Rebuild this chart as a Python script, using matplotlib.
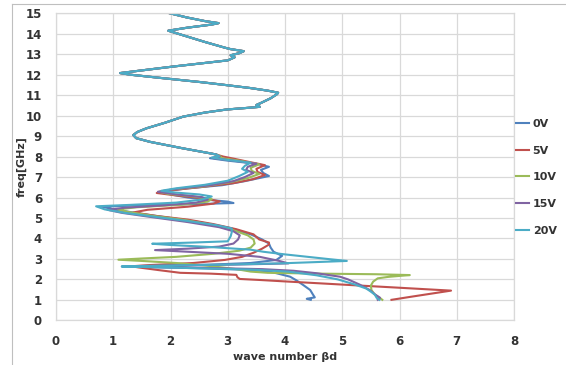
import matplotlib
matplotlib.use("Agg")
import matplotlib.pyplot as plt
from matplotlib.lines import Line2D

series_labels = ["0V", "5V", "10V", "15V", "20V"]
series_colors = ["#4F81BD", "#C0504D", "#9BBB59", "#8064A2", "#4BACC6"]

# (freq GHz, wave number) below 8 GHz, per bias voltage
low_0v = [(1.00, 4.45), (1.05, 4.38), (1.12, 4.52), (1.25, 4.49), (1.48, 4.44), (1.72, 4.32),
          (1.95, 4.20), (2.13, 4.09), (2.30, 3.85), (2.40, 3.70), (2.48, 3.20), (2.55, 2.40),
          (2.60, 1.60), (2.63, 1.15), (2.67, 1.70), (2.72, 2.70), (2.80, 3.40), (2.95, 3.85),
          (3.15, 3.95), (3.35, 3.80), (3.55, 3.75), (3.75, 3.72), (3.95, 3.60), (4.20, 3.40),
          (4.50, 3.05), (4.80, 2.50), (5.00, 2.00), (5.20, 1.50), (5.40, 1.05), (5.55, 0.80),
          (5.62, 1.50), (5.68, 2.50), (5.73, 3.10), (5.80, 3.00), (5.90, 2.60), (6.00, 2.30),
          (6.15, 2.00), (6.30, 1.90), (6.45, 2.30), (6.60, 2.90), (6.80, 3.30), (7.05, 3.72),
          (7.20, 3.62), (7.35, 3.58), (7.50, 3.72), (7.65, 3.50), (7.80, 3.00), (7.92, 2.69),
          (8.00, 2.85)]
low_5v = [(1.00, 5.86), (1.15, 6.20), (1.30, 6.55), (1.45, 6.90), (1.52, 6.45), (1.60, 5.94),
          (1.70, 5.29), (1.80, 4.65), (1.90, 4.00), (1.97, 3.56), (2.02, 3.21), (2.10, 3.17),
          (2.22, 3.15), (2.28, 2.70), (2.32, 2.17), (2.45, 1.80), (2.58, 1.45), (2.64, 1.32),
          (2.70, 1.65), (2.80, 2.40), (2.95, 2.95), (3.10, 3.25), (3.30, 3.45), (3.50, 3.60),
          (3.70, 3.72), (3.80, 3.72), (3.95, 3.55), (4.20, 3.45), (4.45, 3.15), (4.70, 2.75),
          (4.92, 2.30), (5.10, 1.75), (5.27, 1.35), (5.40, 1.60), (5.55, 2.30), (5.70, 2.75),
          (5.81, 2.86), (5.95, 2.60), (6.10, 2.10), (6.22, 1.76), (6.35, 2.00), (6.50, 2.50),
          (6.70, 3.10), (6.90, 3.45), (7.10, 3.65), (7.25, 3.52), (7.40, 3.50), (7.58, 3.65),
          (7.75, 3.35), (7.90, 3.10), (8.00, 2.92)]
low_10v = [(1.00, 5.70), (1.09, 5.66), (1.25, 5.57), (1.48, 5.51), (1.70, 5.50), (1.89, 5.54),
           (2.05, 5.62), (2.12, 5.80), (2.18, 6.05), (2.21, 6.18), (2.25, 5.60), (2.28, 4.60),
           (2.32, 3.70), (2.38, 3.40), (2.50, 3.15), (2.65, 2.70), (2.80, 2.10), (2.90, 1.50),
           (2.96, 1.09), (3.02, 1.50), (3.10, 2.10), (3.25, 2.75), (3.40, 3.20), (3.55, 3.40),
           (3.75, 3.47), (3.95, 3.45), (4.15, 3.35), (4.40, 3.10), (4.65, 2.75), (4.90, 2.25),
           (5.10, 1.70), (5.30, 1.25), (5.42, 1.08), (5.52, 1.40), (5.65, 2.20), (5.80, 2.65),
           (5.92, 2.72), (6.05, 2.40), (6.18, 1.95), (6.28, 1.80), (6.40, 2.05), (6.55, 2.60),
           (6.75, 3.05), (6.95, 3.35), (7.15, 3.55), (7.30, 3.42), (7.45, 3.40), (7.62, 3.55),
           (7.80, 3.20), (7.93, 2.88), (8.00, 2.88)]
low_15v = [(1.00, 5.62), (1.10, 5.66), (1.25, 5.58), (1.48, 5.48), (1.75, 5.30), (2.00, 5.10),
           (2.13, 4.96), (2.30, 4.55), (2.42, 4.15), (2.50, 3.60), (2.56, 2.60), (2.60, 1.80),
           (2.63, 1.20), (2.67, 1.90), (2.72, 3.10), (2.78, 4.06), (2.90, 3.90), (3.10, 3.56),
           (3.25, 3.00), (3.35, 2.30), (3.43, 1.73), (3.50, 2.30), (3.60, 2.85), (3.75, 3.10),
           (3.95, 3.18), (4.15, 3.21), (4.35, 3.10), (4.55, 2.85), (4.80, 2.30), (5.05, 1.65),
           (5.25, 1.15), (5.40, 0.90), (5.50, 1.20), (5.62, 1.90), (5.75, 2.45), (5.90, 2.65),
           (6.02, 2.55), (6.15, 2.10), (6.28, 1.78), (6.42, 2.10), (6.60, 2.70), (6.80, 3.10),
           (7.00, 3.30), (7.20, 3.45), (7.35, 3.32), (7.50, 3.35), (7.65, 3.50), (7.80, 3.10),
           (7.92, 2.75), (8.00, 2.86)]
low_20v = [(1.00, 5.65), (1.10, 5.60), (1.25, 5.57), (1.40, 5.50), (1.55, 5.42), (1.75, 5.22),
           (2.00, 4.92), (2.20, 4.55), (2.38, 4.05), (2.48, 3.40), (2.55, 2.40), (2.60, 1.60),
           (2.63, 1.15), (2.67, 1.80), (2.72, 2.90), (2.78, 3.90), (2.84, 4.50), (2.90, 5.08),
           (2.98, 4.80), (3.10, 4.40), (3.22, 4.00), (3.35, 3.62), (3.45, 3.40), (3.58, 2.70),
           (3.68, 2.00), (3.74, 1.68), (3.80, 2.40), (3.86, 3.00), (4.10, 3.05), (4.30, 3.07),
           (4.49, 3.07), (4.65, 2.80), (4.85, 2.30), (5.05, 1.75), (5.25, 1.20), (5.42, 0.85),
           (5.57, 0.70), (5.64, 1.30), (5.75, 2.10), (5.90, 2.55), (6.05, 2.72), (6.15, 2.50),
           (6.25, 2.05), (6.33, 1.84), (6.45, 2.10), (6.62, 2.60), (6.82, 3.00), (7.05, 3.20),
           (7.25, 3.35), (7.40, 3.25), (7.55, 3.30), (7.70, 3.40), (7.85, 2.95), (7.95, 2.72),
           (8.02, 2.85)]
# common upper branch above 8 GHz
high_common = [(8.10, 2.80), (8.16, 2.69), (8.40, 2.22), (8.72, 1.64), (8.90, 1.40), (9.05, 1.35),
               (9.20, 1.42), (9.38, 1.58), (9.65, 1.90), (9.95, 2.22), (10.15, 2.60), (10.30, 2.98),
               (10.38, 3.35), (10.43, 3.56), (10.52, 3.50), (10.62, 3.58), (10.85, 3.75), (11.05, 3.86),
               (11.12, 3.88), (11.22, 3.70), (11.35, 3.39), (11.50, 2.95), (11.64, 2.52), (11.85, 1.80),
               (12.00, 1.30), (12.08, 1.12), (12.40, 2.05), (12.70, 3.00), (12.85, 3.12), (12.95, 3.05),
               (13.05, 3.20), (13.15, 3.28), (13.25, 3.05), (13.32, 2.95), (13.60, 2.60), (13.90, 2.25),
               (14.15, 1.96), (14.30, 2.30), (14.45, 2.72), (14.52, 2.84), (14.62, 2.60), (14.80, 2.28),
               (15.00, 1.99)]

x_ticks = [0, 1, 2, 3, 4, 5, 6, 7, 8]
y_ticks = list(range(0, 16))

W, H = 566, 365
fig = plt.figure(figsize=(W / 100, H / 100), dpi=100)
ax = fig.add_axes([56 / W, 1 - 320.3 / H, (514 - 56) / W, (320.3 - 13.3) / H])

fam = ["DejaVu Sans"]
grid_c = "#D9D9D9"
txt_c = "#333333"

for low, lab, col in zip([low_0v, low_5v, low_10v, low_15v, low_20v], series_labels, series_colors):
    pts = low + high_common
    f = [p[0] for p in pts]
    b = [p[1] for p in pts]
    ax.plot(b, f, color=col, lw=1.5, label=lab, solid_joinstyle="round")

ax.set_xlim(0, 8)
ax.set_ylim(0, 15)
ax.set_xticks(x_ticks)
ax.set_yticks(y_ticks)
ax.grid(True, color=grid_c, lw=0.9)
ax.set_axisbelow(True)
for s in ax.spines.values():
    s.set_color(grid_c)
    s.set_linewidth(0.9)
ax.tick_params(length=0, colors=txt_c)
ax.tick_params(axis="x", pad=10.5)
ax.tick_params(axis="y", pad=10)
for lbl in ax.get_xticklabels() + ax.get_yticklabels():
    lbl.set_fontfamily(fam)
    lbl.set_fontweight("bold")
    lbl.set_fontsize(8.5)

fig.text(22 / W, 1 - 167 / H, "freq[GHz]", rotation=90, ha="center", va="center",
         color=txt_c, family=fam, weight="bold", size=8)
fig.text(285 / W, 1 - 357 / H, "wave number βd", ha="center", va="center",
         color=txt_c, family=fam, weight="bold", size=8)

handles = [Line2D([], [], color=c, lw=1.5) for c in series_colors]
fig.legend(handles, series_labels, loc="upper left", bbox_to_anchor=(516 / W, 1 - 119 / H),
           frameon=False, handlelength=1.2, handletextpad=0.3, labelspacing=1.5,
           borderpad=0, borderaxespad=0, prop=dict(family=fam, weight="bold", size=8),
           labelcolor=txt_c)

fig.add_artist(Line2D([12 / W, 1], [1 - 4 / H, 1 - 4 / H], transform=fig.transFigure, color="#BFBFBF", lw=0.8))
fig.add_artist(Line2D([12 / W, 12 / W], [0, 1 - 4 / H], transform=fig.transFigure, color="#BFBFBF", lw=0.8))

fig.savefig("out.png", dpi=100)
